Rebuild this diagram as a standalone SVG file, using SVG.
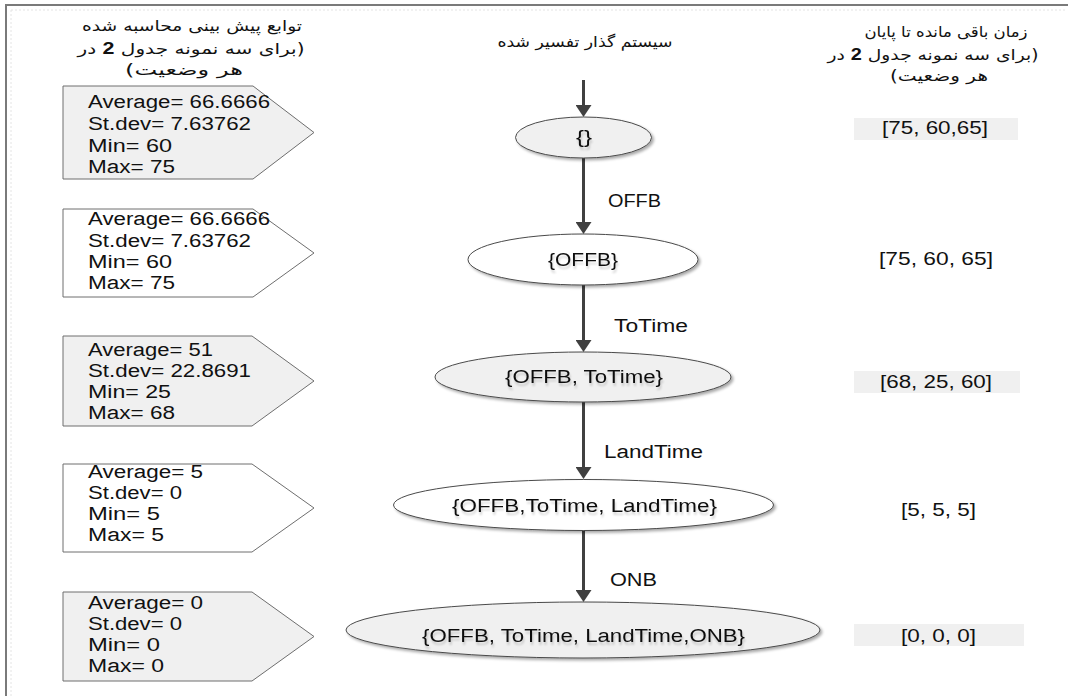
<svg xmlns="http://www.w3.org/2000/svg" width="1073" height="696" viewBox="0 0 1073 696">
  <defs>
    <style>
      .frame { stroke: #7a7a7a; stroke-width: 2; fill: none; }
      .frame-in { stroke: #e4e4e4; stroke-width: 1; stroke-dasharray: 2 2; fill: none; }
      .stat { stroke: #6e6e6e; stroke-width: 1; }
      .gray { fill: #f0f0f0; }
      .white { fill: #ffffff; }
      .state { stroke: #4a4a4a; stroke-width: 1; }
      .lbl { font-family: "Liberation Sans", "Open Sans", sans-serif; font-size: 18px; fill: #111; }
      .mid { text-anchor: middle; }
      .fa { font-family: "DejaVu Sans", "Liberation Sans", sans-serif; font-size: 15px; fill: #111; text-anchor: middle; direction: rtl; unicode-bidi: embed; }
      .num { font-family: "Liberation Sans", sans-serif; font-size: 16px; font-weight: bold; }
      .edge { stroke: #404040; stroke-width: 3; fill: none; marker-end: url(#head); }
      .cell { fill: #f0f0f0; }
    </style>
    <marker id="head" viewBox="0 0 12 16" refX="0" refY="8" markerWidth="12" markerHeight="16" markerUnits="userSpaceOnUse" orient="auto">
      <path d="M0,0 L12,8 L0,16 Z" fill="#404040"/>
    </marker>
    <filter id="soft" x="-10%" y="-20%" width="125%" height="150%">
      <feGaussianBlur in="SourceAlpha" stdDeviation="1.5"/>
      <feOffset dx="2" dy="2" result="b"/>
      <feComponentTransfer><feFuncA type="linear" slope="0.35"/></feComponentTransfer>
      <feMerge><feMergeNode/><feMergeNode in="SourceGraphic"/></feMerge>
    </filter>
    <filter id="ghost" x="-10%" y="-30%" width="120%" height="180%">
      <feGaussianBlur in="SourceAlpha" stdDeviation="1"/>
      <feOffset dx="1" dy="3"/>
      <feComponentTransfer><feFuncA type="linear" slope="0.18"/></feComponentTransfer>
      <feMerge><feMergeNode/><feMergeNode in="SourceGraphic"/></feMerge>
    </filter>
  </defs>

  <!-- page frame -->
  <g id="frame">
    <path class="frame-in" d="M11,10 H1066 M11,10 V696"/>
    <path class="frame" d="M6,696 V5 H1068"/>
  </g>

  <!-- column headings (right-to-left) -->
  <g id="heading-left">
    <text class="fa" x="192" y="31" textLength="220" lengthAdjust="spacingAndGlyphs">توابع پیش بینی محاسبه شده</text>
    <text class="fa" x="191" y="54" textLength="227" lengthAdjust="spacingAndGlyphs">(برای سه نمونه جدول <tspan class="num">2</tspan> در</text>
    <text class="fa" x="184" y="75" textLength="118" lengthAdjust="spacingAndGlyphs">هر وضعیت)</text>
  </g>
  <g id="heading-center">
    <text class="fa" x="585" y="47" textLength="175" lengthAdjust="spacingAndGlyphs">سیستم گذار تفسیر شده</text>
  </g>
  <g id="heading-right">
    <text class="fa" x="946" y="37" textLength="163" lengthAdjust="spacingAndGlyphs">زمان باقی مانده تا پایان</text>
    <text class="fa" x="933" y="60" textLength="211" lengthAdjust="spacingAndGlyphs">(برای سه نمونه جدول <tspan class="num">2</tspan> در</text>
    <text class="fa" x="939" y="81" textLength="98" lengthAdjust="spacingAndGlyphs">هر وضعیت)</text>
  </g>

  <!-- connectors -->
  <g id="connectors">
    <line class="edge" x1="583.5" y1="80" x2="583.5" y2="105"/>
    <line class="edge" x1="583.5" y1="158" x2="583.5" y2="222"/>
    <line class="edge" x1="583.5" y1="285" x2="583.5" y2="340"/>
    <line class="edge" x1="583.5" y1="402" x2="583.5" y2="467"/>
    <line class="edge" x1="583.5" y1="530" x2="583.5" y2="590"/>
    <text class="lbl" x="608" y="207" textLength="53" lengthAdjust="spacingAndGlyphs">OFFB</text>
    <text class="lbl" x="614" y="332" textLength="74" lengthAdjust="spacingAndGlyphs">ToTime</text>
    <text class="lbl" x="604" y="458" textLength="99" lengthAdjust="spacingAndGlyphs">LandTime</text>
    <text class="lbl" x="610" y="586" textLength="47" lengthAdjust="spacingAndGlyphs">ONB</text>
  </g>

  <!-- states of the interpreted transition system -->
  <g id="state-0">
    <ellipse class="state gray" cx="583.5" cy="137.5" rx="68" ry="20.5" filter="url(#soft)"/>
    <text class="lbl mid" x="584" y="143" textLength="16" lengthAdjust="spacingAndGlyphs" filter="url(#ghost)">{}</text>
  </g>
  <g id="state-1">
    <ellipse class="state white" cx="583" cy="259.5" rx="115" ry="25.5" filter="url(#soft)"/>
    <text class="lbl mid" x="583" y="266" textLength="70" lengthAdjust="spacingAndGlyphs" filter="url(#ghost)">{OFFB}</text>
  </g>
  <g id="state-2">
    <ellipse class="state gray" cx="583" cy="377" rx="148" ry="25" filter="url(#soft)"/>
    <text class="lbl mid" x="584" y="383" textLength="158" lengthAdjust="spacingAndGlyphs" filter="url(#ghost)">{OFFB, ToTime}</text>
  </g>
  <g id="state-3">
    <ellipse class="state white" cx="583.5" cy="505" rx="190" ry="25.5" filter="url(#soft)"/>
    <text class="lbl mid" x="584.5" y="512" textLength="265" lengthAdjust="spacingAndGlyphs" filter="url(#ghost)">{OFFB,ToTime, LandTime}</text>
  </g>
  <g id="state-4">
    <ellipse class="state gray" cx="583" cy="630" rx="237" ry="28" filter="url(#soft)"/>
    <text class="lbl mid" x="583.5" y="642" textLength="323" lengthAdjust="spacingAndGlyphs" filter="url(#ghost)">{OFFB, ToTime, LandTime,ONB}</text>
  </g>

  <!-- predicted statistics for each state -->
  <g id="stats-0">
    <polygon class="stat gray" points="63,86 253,86 314,132.5 253,179 63,179"/>
    <text class="lbl" x="88" y="108" textLength="182" lengthAdjust="spacingAndGlyphs">Average= 66.6666</text>
    <text class="lbl" x="88" y="130" textLength="163" lengthAdjust="spacingAndGlyphs">St.dev= 7.63762</text>
    <text class="lbl" x="88" y="152" textLength="84" lengthAdjust="spacingAndGlyphs">Min= 60</text>
    <text class="lbl" x="88" y="173" textLength="87" lengthAdjust="spacingAndGlyphs">Max= 75</text>
  </g>
  <g id="stats-1">
    <polygon class="stat white" points="63,209 253,209 314,253 253,297 63,297"/>
    <text class="lbl" x="88" y="225" textLength="182" lengthAdjust="spacingAndGlyphs">Average= 66.6666</text>
    <text class="lbl" x="88" y="247" textLength="163" lengthAdjust="spacingAndGlyphs">St.dev= 7.63762</text>
    <text class="lbl" x="88" y="268" textLength="84" lengthAdjust="spacingAndGlyphs">Min= 60</text>
    <text class="lbl" x="88" y="289" textLength="87" lengthAdjust="spacingAndGlyphs">Max= 75</text>
  </g>
  <g id="stats-2">
    <polygon class="stat gray" points="63,336 252,336 314,381 252,426 63,426"/>
    <text class="lbl" x="88" y="356" textLength="125" lengthAdjust="spacingAndGlyphs">Average= 51</text>
    <text class="lbl" x="88" y="377" textLength="163" lengthAdjust="spacingAndGlyphs">St.dev= 22.8691</text>
    <text class="lbl" x="88" y="398" textLength="83" lengthAdjust="spacingAndGlyphs">Min= 25</text>
    <text class="lbl" x="88" y="419" textLength="87" lengthAdjust="spacingAndGlyphs">Max= 68</text>
  </g>
  <g id="stats-3">
    <polygon class="stat white" points="63,464 252,464 314,508 252,552 63,552"/>
    <text class="lbl" x="88" y="478" textLength="115" lengthAdjust="spacingAndGlyphs">Average= 5</text>
    <text class="lbl" x="88" y="499" textLength="94" lengthAdjust="spacingAndGlyphs">St.dev= 0</text>
    <text class="lbl" x="88" y="520" textLength="72" lengthAdjust="spacingAndGlyphs">Min= 5</text>
    <text class="lbl" x="88" y="541" textLength="76" lengthAdjust="spacingAndGlyphs">Max= 5</text>
  </g>
  <g id="stats-4">
    <polygon class="stat gray" points="63,592 252,592 314,636.5 252,681 63,681"/>
    <text class="lbl" x="88" y="609" textLength="115" lengthAdjust="spacingAndGlyphs">Average= 0</text>
    <text class="lbl" x="88" y="630" textLength="94" lengthAdjust="spacingAndGlyphs">St.dev= 0</text>
    <text class="lbl" x="88" y="651" textLength="72" lengthAdjust="spacingAndGlyphs">Min= 0</text>
    <text class="lbl" x="88" y="672" textLength="76" lengthAdjust="spacingAndGlyphs">Max= 0</text>
  </g>

  <!-- remaining time per state -->
  <g id="remain-0">
    <rect class="cell" x="854" y="118" width="164" height="22"/>
    <text class="lbl mid" x="935" y="134" textLength="106" lengthAdjust="spacingAndGlyphs">[75, 60,65]</text>
  </g>
  <g id="remain-1">
    <text class="lbl mid" x="936" y="265" textLength="114" lengthAdjust="spacingAndGlyphs">[75, 60, 65]</text>
  </g>
  <g id="remain-2">
    <rect class="cell" x="854" y="371" width="166" height="22"/>
    <text class="lbl mid" x="936" y="388" textLength="112" lengthAdjust="spacingAndGlyphs">[68, 25, 60]</text>
  </g>
  <g id="remain-3">
    <text class="lbl mid" x="938.5" y="516" textLength="75" lengthAdjust="spacingAndGlyphs">[5, 5, 5]</text>
  </g>
  <g id="remain-4">
    <rect class="cell" x="854" y="624" width="170" height="22"/>
    <text class="lbl mid" x="938.5" y="642" textLength="75" lengthAdjust="spacingAndGlyphs">[0, 0, 0]</text>
  </g>
</svg>
